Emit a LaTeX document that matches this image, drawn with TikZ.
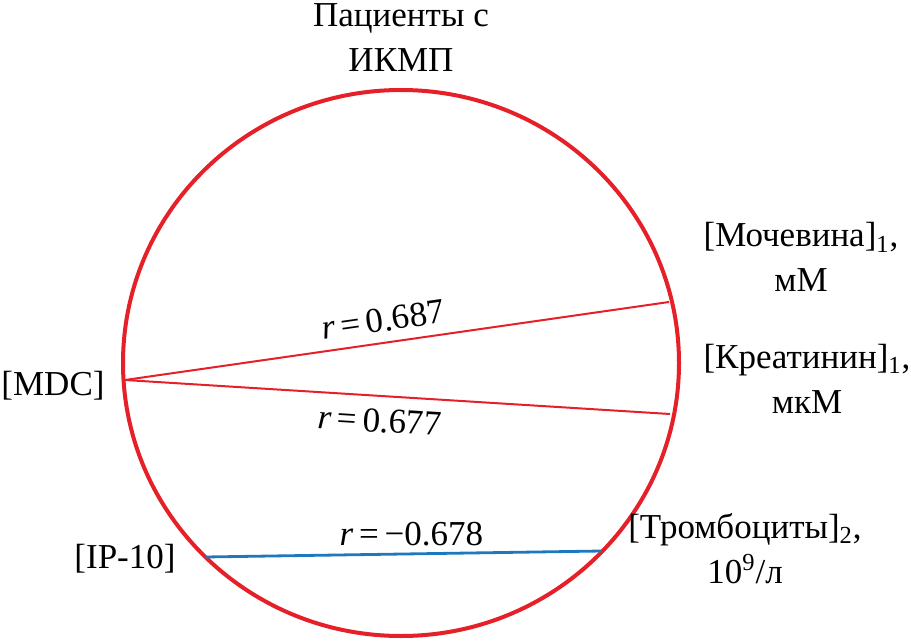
\documentclass[tikz,border=0pt]{standalone}
\usepackage{fontspec}
\setmainfont{Liberation Serif}
\usepackage{xcolor}
\usepackage{tikz}
\usetikzlibrary{positioning}
\definecolor{ringred}{RGB}{230,32,40}
\definecolor{linkblue}{RGB}{30,120,190}

\begin{document}
\begin{tikzpicture}[
		x=0.5pt,y=-0.5pt,
		txt/.style={
		  inner sep=0pt,
		  align=center,
		  font=\fontsize{17.5}{22.5}\selectfont
		},
		rval/.style={
		  inner sep=3pt,
		  font=\fontsize{17.5}{20}\selectfont
		},
		redlink/.style={
		  draw=ringred,
		  line width=1pt
		},
		bluelink/.style={
		  draw=linkblue,
		  line width=1.4pt
		}
		]
		\useasboundingbox (0,0) rectangle (911,642);
		\draw[ringred,line width=2pt] (401,363) ellipse (278 and 273);

		% points on the circle
		\coordinate (mdc) at (125,380);
		\coordinate (urea) at (669,302);
		\coordinate (crea) at (670,414);
		\coordinate (ip) at (205,557);
		\coordinate (plt) at (602,551);

		\node[txt,anchor=base] (title) at (401,72)
		  {Пациенты с\\ИКМП};
		\node[txt,anchor=base] (lmdc) at (53,395) {[MDC]};
		\node[txt,anchor=base] (lurea) at (801,292)
		  {[Мочевина]\textsubscript{1},\\мМ};
		\node[txt,anchor=base] (lcrea) at (807,413)
		  {[Креатинин]\textsubscript{1},\\мкМ};
		\node[txt,anchor=base] (lip) at (125,568) {[IP-10]};
		\node[txt,anchor=base] (lplt) at (745,583)
		  {[Тромбоциты]\textsubscript{2},\\10\textsuperscript{9}/л};

		\draw[redlink] (mdc) -- node[rval,pos=0.48,sloped,above,inner sep=5pt] {\textit{r}\,=\,0.687} (urea);
		\draw[redlink] (mdc) -- node[rval,pos=0.47,sloped,below,inner sep=6pt] {\textit{r}\,=\,0.677} (crea);
		\draw[bluelink] (ip) -- node[rval,pos=0.52,above] {\textit{r}\,=\,−0.678} (plt);
	\end{tikzpicture}
\end{document}
